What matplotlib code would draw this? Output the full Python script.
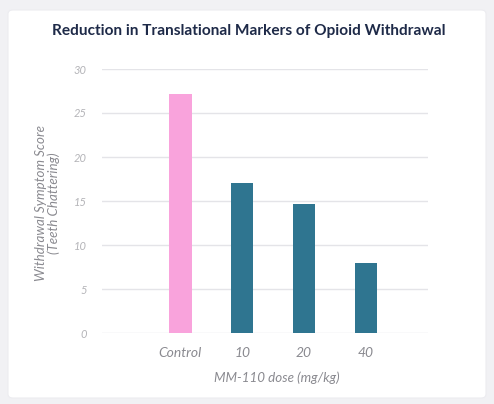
import matplotlib
matplotlib.use("Agg")
import matplotlib.pyplot as plt
from matplotlib.patches import FancyBboxPatch

categories = ["Control", "10", "20", "40"]
values = [27.2, 17.1, 14.7, 7.9]
bar_colors = ["#f9a3dc", "#2f7590", "#2f7590", "#2f7590"]
yticks = [0, 5, 10, 15, 20, 25, 30]
title = "Reduction in Translational Markers of Opioid Withdrawal"
xlabel = "MM-110 dose (mg/kg)"
ylabel = "Withdrawal Symptom Score\n(Teeth Chattering)"

plt.rcParams['font.family'] = ['Lato', 'DejaVu Sans']

fig = plt.figure(figsize=(4.94, 4.04), dpi=100)
fig.patch.set_facecolor("#f1f1f4")
card = FancyBboxPatch((8/494, 6/404), 478/494, 388/404,
                      boxstyle="round,pad=0,rounding_size=0.01",
                      transform=fig.transFigure, facecolor="white",
                      edgecolor="#ececf0", linewidth=0.8, zorder=-10)
fig.patches.append(card)

ax = fig.add_axes([102/494, 1-333/404, 326/494, (333-69)/404])
ax.set_zorder(5)
ax.set_facecolor("none")
x = list(range(len(categories)))
ax.bar(x, values, width=0.36, color=bar_colors, zorder=3)
ax.set_xlim(-1.27, 4.01)
ax.set_ylim(0, 30)
ax.set_yticks(yticks)
ax.set_xticks(x)
ax.set_xticklabels(categories)
ax.grid(axis='y', color="#e4e4e8", linewidth=1.0, zorder=0)
ax.set_axisbelow(True)
for s in ax.spines.values():
    s.set_visible(False)
ax.tick_params(axis='both', length=0)
ax.tick_params(axis='y', pad=11, labelsize=8, labelcolor="#b4b4b8")
ax.tick_params(axis='x', pad=10, labelsize=10, labelcolor="#8a8a90")
for lbl in ax.get_xticklabels() + ax.get_yticklabels():
    lbl.set_fontstyle('italic')

ax.set_xlabel(xlabel, fontsize=9.6, color="#8a8a90", style='italic')
ax.xaxis.set_label_coords((277-102)/326, -(371-333)/264)
ax.set_ylabel(ylabel, fontsize=9.6, color="#8a8a90", style='italic', linespacing=1.0)
ax.yaxis.set_label_coords(-(102-60)/326, (333-203)/264)

fig.text(249/494, 1-31/404, title, ha='center', va='center',
         fontsize=11.1, fontweight='bold', color="#1e2a48", zorder=6)

fig.savefig("out.png", dpi=100, facecolor=fig.get_facecolor())
